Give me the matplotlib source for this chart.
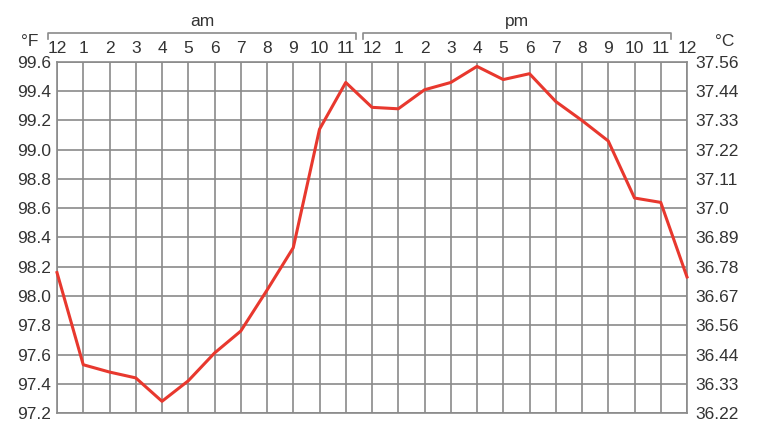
import matplotlib
matplotlib.use("Agg")
import matplotlib.pyplot as plt
import matplotlib.transforms as mtransforms

plt.rcParams['font.family'] = ['Liberation Sans', 'DejaVu Sans']

# hours from midnight to midnight
hours = list(range(25))
hour_labels = ['12', '1', '2', '3', '4', '5', '6', '7', '8', '9', '10', '11',
               '12', '1', '2', '3', '4', '5', '6', '7', '8', '9', '10', '11', '12']
temp_f = [98.16, 97.53, 97.48, 97.44, 97.28, 97.42, 97.61, 97.76, 98.04, 98.33,
          99.14, 99.46, 99.29, 99.28, 99.41, 99.46, 99.57, 99.48, 99.52, 99.33,
          99.20, 99.06, 98.67, 98.64, 98.13]
f_ticks = [97.2, 97.4, 97.6, 97.8, 98.0, 98.2, 98.4, 98.6, 98.8, 99.0, 99.2, 99.4, 99.6]
c_labels = ['36.22', '36.33', '36.44', '36.56', '36.67', '36.78', '36.89',
            '37.0', '37.11', '37.22', '37.33', '37.44', '37.56']

grid_col = '#8a8a8a'
text_col = '#333333'

fig = plt.figure(figsize=(7.68, 4.48), dpi=100)
ax = fig.add_axes([57/768, 1 - 413/448, 630/768, 351/448])

ax.plot(hours, temp_f, color='#e8382e', linewidth=2.2, zorder=3, clip_on=False)

ax.set_xlim(0, 24)
ax.set_ylim(97.2, 99.6)
ax.set_xticks(hours)
ax.set_yticks(f_ticks)
ax.grid(True, color=grid_col, linewidth=1.2)
ax.set_axisbelow(True)
for s in ax.spines.values():
    s.set_color(grid_col)
    s.set_linewidth(1.2)

ax.xaxis.tick_top()
ax.set_xticklabels(hour_labels)
ax.tick_params(axis='x', length=0, pad=4, labelsize=12.5, labelcolor=text_col)
ax.set_yticklabels([f'{v:.1f}' for v in f_ticks])
ax.tick_params(axis='y', length=0, pad=4, labelsize=12.5, labelcolor=text_col)

ax2 = ax.twinx()
ax2.set_ylim(ax.get_ylim())
ax2.set_yticks(f_ticks)
ax2.set_yticklabels(c_labels)
ax2.tick_params(axis='y', length=0, pad=6, labelsize=12.5, labelcolor=text_col)
for s in ax2.spines.values():
    s.set_visible(False)

# am / pm brackets above the hour labels
trans = mtransforms.blended_transform_factory(ax.transData, ax.transAxes)
for x0, x1, lab in [(-0.34, 11.39, 'am'), (11.66, 23.39, 'pm')]:
    ax.plot([x0, x0, x1, x1], [1.066, 1.083, 1.083, 1.066], color=grid_col,
            linewidth=1.2, transform=trans, clip_on=False)
    ax.text((x0 + x1) / 2, 1.095, lab, transform=trans, ha='center', va='bottom',
            fontsize=12.5, color=text_col)

fig.text(30/768, 1 - 41/448, '°F', ha='center', va='center', fontsize=12.5, color=text_col)
fig.text(725/768, 1 - 41/448, '°C', ha='center', va='center', fontsize=12.5, color=text_col)

fig.savefig('out.png', dpi=100)
